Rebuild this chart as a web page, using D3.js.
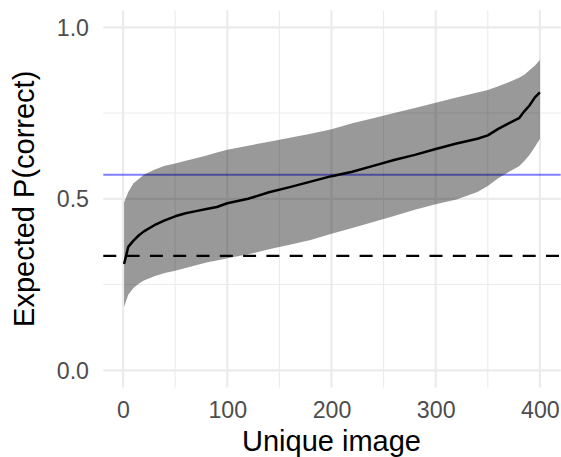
<!DOCTYPE html>
<html>
<head>
<meta charset="utf-8">
<script src="https://cdn.jsdelivr.net/npm/d3@7"></script>
<style>
  html, body { margin: 0; padding: 0; background: #fff; }
  svg { display: block; font-family: "Liberation Sans", Arial, Helvetica, sans-serif; }
</style>
</head>
<body>
<svg id="chart" width="561" height="457"></svg>
<script>
// ---- data ----
const imageIdx = [1, 5, 10, 15, 20, 30, 40, 50, 60, 70, 80, 90, 100, 120, 140, 160, 180, 200,
                  220, 240, 260, 280, 300, 320, 340, 350, 360, 370, 380, 385, 390, 395, 400];
const meanP  = [0.31, 0.36, 0.378, 0.393, 0.405, 0.423, 0.437, 0.449, 0.458, 0.464, 0.470, 0.476, 0.487,
                0.500, 0.519, 0.534, 0.550, 0.566, 0.579, 0.596, 0.613, 0.628, 0.645, 0.661, 0.675,
                0.685, 0.704, 0.720, 0.735, 0.755, 0.772, 0.795, 0.81];
const upperP = [0.49, 0.52, 0.545, 0.558, 0.57, 0.585, 0.596, 0.603, 0.611, 0.618, 0.626, 0.635, 0.643,
                0.655, 0.666, 0.678, 0.69, 0.703, 0.72, 0.735, 0.75, 0.765, 0.78, 0.795, 0.81,
                0.817, 0.828, 0.84, 0.853, 0.862, 0.875, 0.888, 0.905];
const lowerP = [0.185, 0.22, 0.24, 0.252, 0.262, 0.274, 0.284, 0.29, 0.298, 0.306, 0.314, 0.32, 0.327,
                0.338, 0.353, 0.366, 0.38, 0.398, 0.415, 0.432, 0.45, 0.468, 0.484, 0.498, 0.52,
                0.537, 0.56, 0.578, 0.595, 0.61, 0.628, 0.65, 0.675];
const chanceLevel = 1 / 3;
const humanLevel = 0.57;
const xMajorTicks = [0, 100, 200, 300, 400];
const xMinorTicks = [50, 150, 250, 350];
const yMajorTicks = [0, 0.5, 1.0];
const yMinorTicks = [0.25, 0.75];
const xTitle = "Unique image";
const yTitle = "Expected P(correct)";

// ---- layout ----
const panel = { left: 103.3, right: 560.7, top: 10.15, bottom: 387.45 };
const x = d3.scaleLinear().domain([-18.95, 419.95]).range([panel.left, panel.right]);
const y = d3.scaleLinear().domain([-0.05, 1.05]).range([panel.bottom, panel.top]);

const svg = d3.select("#chart");
const rows = imageIdx.map((d, i) => ({ x: d, m: meanP[i], lo: lowerP[i], hi: upperP[i] }));

// grid
const grid = svg.append("g");
grid.selectAll("line.xmin").data(xMinorTicks).join("line")
  .attr("x1", d => x(d)).attr("x2", d => x(d)).attr("y1", panel.top).attr("y2", panel.bottom)
  .attr("stroke", "#EBEBEB").attr("stroke-width", 1.1);
grid.selectAll("line.ymin").data(yMinorTicks).join("line")
  .attr("y1", d => y(d)).attr("y2", d => y(d)).attr("x1", panel.left).attr("x2", panel.right)
  .attr("stroke", "#EBEBEB").attr("stroke-width", 1.1);
grid.selectAll("line.xmaj").data(xMajorTicks).join("line")
  .attr("x1", d => x(d)).attr("x2", d => x(d)).attr("y1", panel.top).attr("y2", panel.bottom)
  .attr("stroke", "#EBEBEB").attr("stroke-width", 2.2);
grid.selectAll("line.ymaj").data(yMajorTicks).join("line")
  .attr("y1", d => y(d)).attr("y2", d => y(d)).attr("x1", panel.left).attr("x2", panel.right)
  .attr("stroke", "#EBEBEB").attr("stroke-width", 2.2);

// human reference line (under ribbon)
svg.append("line")
  .attr("x1", panel.left).attr("x2", panel.right)
  .attr("y1", y(humanLevel)).attr("y2", y(humanLevel))
  .attr("stroke", "blue").attr("stroke-opacity", 0.5).attr("stroke-width", 2);

// ribbon
svg.append("path").datum(rows)
  .attr("d", d3.area().x(d => x(d.x)).y0(d => y(d.lo)).y1(d => y(d.hi)))
  .attr("fill", "#000").attr("fill-opacity", 0.4);

// mean line
svg.append("path").datum(rows)
  .attr("d", d3.line().x(d => x(d.x)).y(d => y(d.m)))
  .attr("fill", "none").attr("stroke", "#000").attr("stroke-width", 2.5)
  .attr("stroke-linejoin", "round");

// chance line
svg.append("line")
  .attr("x1", panel.left).attr("x2", panel.right)
  .attr("y1", y(chanceLevel)).attr("y2", y(chanceLevel))
  .attr("stroke", "#000").attr("stroke-width", 2.2).attr("stroke-dasharray", "13,10.3");

// axes (text only, like theme_minimal)
const xAxis = svg.append("g").attr("transform", `translate(0,${panel.bottom})`)
  .call(d3.axisBottom(x).tickValues(xMajorTicks).tickSize(0).tickPadding(0).tickFormat(d3.format("d")));
xAxis.select(".domain").remove();
xAxis.selectAll("text").attr("y", 418.3 - panel.bottom).attr("dy", 0)
  .attr("fill", "#4D4D4D").style("font-size", "23.2px").style("font-family", "inherit");

const yAxis = svg.append("g").attr("transform", `translate(${panel.left},0)`)
  .call(d3.axisLeft(y).tickValues(yMajorTicks).tickSize(0).tickPadding(0).tickFormat(d3.format(".1f")));
yAxis.select(".domain").remove();
yAxis.selectAll("text").attr("x", 89 - panel.left).attr("dy", "0.35em")
  .attr("fill", "#4D4D4D").style("font-size", "23.2px").style("font-family", "inherit");

// titles
svg.append("text").attr("x", (panel.left + panel.right) / 2 - 0.5).attr("y", 450.5)
  .attr("text-anchor", "middle").attr("fill", "#000").style("font-size", "29px").text(xTitle);
svg.append("text")
  .attr("transform", `translate(34,${(panel.top + panel.bottom) / 2}) rotate(-90)`)
  .attr("text-anchor", "middle").attr("fill", "#000").style("font-size", "29px").text(yTitle);
</script>
</body>
</html>
